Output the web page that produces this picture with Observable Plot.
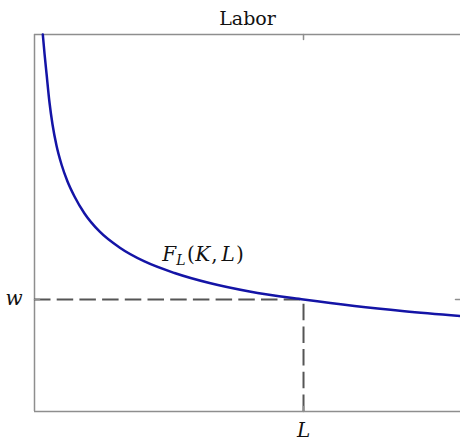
<!DOCTYPE html>
<html>
<head>
<meta charset="utf-8">
<script src="https://cdn.jsdelivr.net/npm/d3@7"></script>
<script src="https://cdn.jsdelivr.net/npm/@observablehq/plot@0.6"></script>
<style>
  html, body { margin: 0; padding: 0; background: #fff; }
  svg { display: block; }
  svg text { font-family: "DejaVu Serif", serif; }
</style>
</head>
<body>
<div id="chart"></div>
<script>
// Marginal product of labor curve F_L(K, L)
const curveX = [0.195, 0.235, 0.282, 0.352, 0.423, 0.516, 0.634, 0.775, 0.939, 1.174, 1.526, 1.995, 2.582, 3.286, 4.108, 5.047, 6.315, 7.512, 8.685, 10.0];
const curveY = [10.0, 9.496, 8.966, 8.196, 7.613, 7.056, 6.552, 6.101, 5.703, 5.252, 4.775, 4.350, 3.979, 3.674, 3.408, 3.183, 2.971, 2.798, 2.660, 2.533];

// Wage and labor levels
const wageLevel = [2.971];
const laborLevel = [6.315];

// Tick labels and text
const xTickLabels = ["L"];
const yTickLabels = ["w"];
const titleText = "Labor";
const curveLabel = ["FL(K, L)"];
const curveLabelX = [3.0];
const curveLabelY = [4.0];

const xDomain = [0, 10];
const yDomain = [0, 10];

const curve = curveX.map((x, i) => ({x, y: curveY[i]}));
const serif = "DejaVu Serif";
const frameColor = "#8e8e8e";
const tickShape = {draw(ctx, l) { ctx.moveTo(0, 0); ctx.lineTo(0, -l); }};

const chart = Plot.plot({
  width: 460,
  height: 440,
  marginLeft: 34,
  marginRight: 0,
  marginTop: 34,
  marginBottom: 29,
  x: {domain: xDomain, axis: null},
  y: {domain: yDomain, axis: null},
  style: {fontFamily: serif, background: "#fff"},
  marks: [
    // box (left, bottom, top)
    Plot.ruleX([xDomain[0]], {stroke: frameColor, strokeWidth: 1.5}),
    Plot.ruleY([yDomain[0], yDomain[1]], {stroke: frameColor, strokeWidth: 1.5}),
    // dashed guides
    Plot.ruleY(wageLevel, {x1: xDomain[0], x2: laborLevel[0], stroke: "#555", strokeWidth: 2, strokeDasharray: "16.5,6.2"}),
    Plot.ruleX(laborLevel, {y1: yDomain[0], y2: wageLevel[0], stroke: "#555", strokeWidth: 2, strokeDasharray: "16.5,6.2"}),
    // inward ticks
    Plot.vector(laborLevel, {x: d => d, y: yDomain[0], length: 5, rotate: 0, anchor: "start", shape: tickShape, stroke: frameColor, strokeWidth: 1.5}),
    Plot.vector(laborLevel, {x: d => d, y: yDomain[1], length: 5, rotate: 180, anchor: "start", shape: tickShape, stroke: frameColor, strokeWidth: 1.5}),
    Plot.vector(wageLevel, {x: xDomain[0], y: d => d, length: 5, rotate: 90, anchor: "start", shape: tickShape, stroke: frameColor, strokeWidth: 1.5}),
    Plot.vector(wageLevel, {x: xDomain[1], y: d => d, length: 5, rotate: 270, anchor: "start", shape: tickShape, stroke: frameColor, strokeWidth: 1.5}),
    // curve
    Plot.line(curve, {x: "x", y: "y", curve: "monotone-x", stroke: "#1414a6", strokeWidth: 2.5}),
    // tick labels
    Plot.text(xTickLabels, {x: laborLevel[0], y: yDomain[0], text: d => d, dy: 25, lineAnchor: "bottom", fontFamily: serif, fontSize: 20, fontStyle: "italic", fill: "#111"}),
    Plot.text(yTickLabels, {x: xDomain[0], y: wageLevel[0], text: d => d, dx: -12, dy: 6, lineAnchor: "bottom", textAnchor: "end", fontFamily: serif, fontSize: 20, fontStyle: "italic", fill: "#111"}),
    // curve label
    Plot.text(curveLabel, {x: curveLabelX, y: curveLabelY, text: d => d, textAnchor: "start", lineAnchor: "bottom", fontFamily: serif, fontSize: 20, fill: "#111"}),
    // title
    Plot.text([titleText], {frameAnchor: "top", text: d => d, dy: -10, lineAnchor: "bottom", fontFamily: serif, fontSize: 19, fill: "#111"})
  ]
});

// typeset the curve label as F_L(K, L) with an italic subscript
d3.select(chart).selectAll("text").filter(function () { return this.textContent === curveLabel[0]; })
  .each(function () {
    const t = d3.select(this);
    t.text(null);
    t.append("tspan").attr("font-style", "italic").text("F");
    t.append("tspan").attr("font-style", "italic").attr("font-size", 14).attr("dy", 4).text("L");
    t.append("tspan").attr("dy", -4).attr("dx", 1.5).text("(");
    t.append("tspan").attr("font-style", "italic").attr("dx", 0.5).text("K");
    t.append("tspan").attr("dx", 1).text(",");
    t.append("tspan").attr("font-style", "italic").attr("dx", 4).text("L");
    t.append("tspan").attr("dx", 1).text(")");
  });

document.getElementById("chart").appendChild(chart);
</script>
</body>
</html>
